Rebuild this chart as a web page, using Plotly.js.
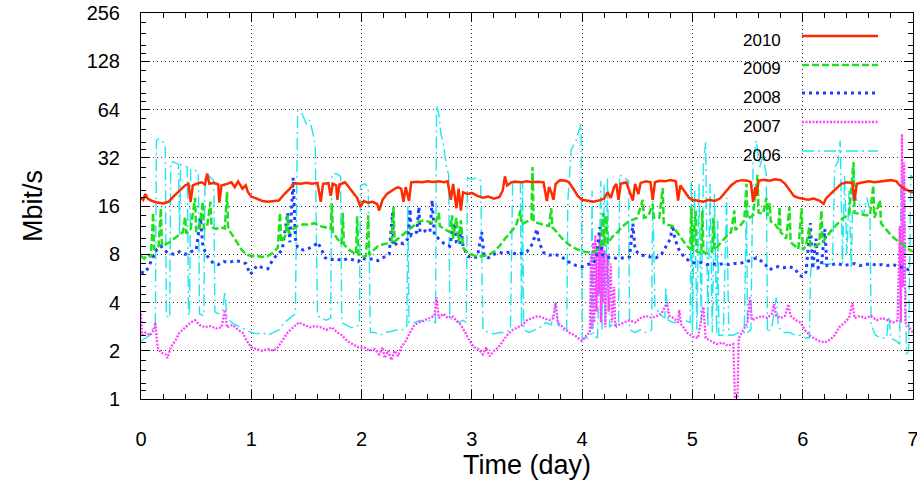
<!DOCTYPE html>
<html><head><meta charset="utf-8">
<script src="https://cdn.plot.ly/plotly-3.0.1.min.js"></script>
<style>html,body{margin:0;padding:0;background:#fff}#chart{width:917px;height:486px}</style>
</head><body><div id="chart"></div>
<script>
// ---- data (time in days, throughput in Mbit/s) ----
const t2010=[0,0.02,0.04,0.06,0.10,0.15,0.20,0.25,0.30,0.35,
0.40,0.43,0.45,0.47,0.50,0.55,0.58,0.60,0.62,0.66,
0.70,0.71,0.73,0.78,0.82,0.85,0.88,0.92,0.95,0.97,
1.00,1.05,1.10,1.15,1.20,1.25,1.30,1.35,1.38,1.40,
1.45,1.50,1.55,1.60,1.63,1.65,1.70,1.72,1.74,1.77,
1.78,1.80,1.85,1.88,1.92,1.96,1.99,2.02,2.06,2.10,
2.14,2.16,2.19,2.23,2.27,2.30,2.33,2.36,2.38,2.40,
2.43,2.45,2.50,2.55,2.60,2.65,2.70,2.75,2.78,2.81,
2.83,2.86,2.88,2.90,2.92,2.96,3.00,3.05,3.10,3.15,
3.20,3.25,3.28,3.30,3.32,3.36,3.40,3.45,3.50,3.55,
3.60,3.65,3.68,3.70,3.72,3.74,3.76,3.80,3.85,3.88,
3.92,3.96,4.00,4.05,4.10,4.15,4.20,4.23,4.26,4.29,
4.31,4.33,4.35,4.40,4.46,4.48,4.51,4.53,4.58,4.62,
4.64,4.66,4.70,4.75,4.80,4.85,4.87,4.89,4.93,4.97,
5.00,5.05,5.10,5.15,5.20,5.25,5.30,5.35,5.40,5.45,
5.50,5.53,5.55,5.57,5.58,5.60,5.65,5.70,5.75,5.80,
5.84,5.88,5.92,5.96,6.00,6.05,6.10,6.15,6.19,6.21,
6.25,6.30,6.35,6.40,6.45,6.47,6.49,6.55,6.60,6.65,
6.70,6.75,6.80,6.85,6.88,6.92,6.96,7.00];
const v2010=[18.0,17.5,19.0,17.8,17.2,16.8,16.6,17.0,18.5,20.0,
21.5,22.0,17.0,21.5,22.0,22.5,21.8,25.5,22.0,22.3,
21.8,16.8,21.5,22.0,22.5,21.0,22.8,20.5,21.5,19.5,
18.3,17.8,17.2,17.0,17.1,17.3,19.0,20.5,21.8,22.2,
22.0,22.3,22.0,22.3,17.0,22.0,22.2,18.5,22.0,21.5,
17.5,21.8,22.5,21.0,19.5,18.0,15.8,17.2,16.8,17.0,
16.5,15.0,17.5,19.0,20.0,20.5,21.0,20.5,17.0,21.0,
17.2,22.5,22.7,22.5,22.8,22.6,22.8,22.5,22.8,17.5,
22.0,15.5,20.5,15.0,19.5,19.0,19.3,18.5,18.0,18.3,
17.8,18.2,20.0,24.5,21.5,22.5,22.7,22.5,22.8,22.5,
22.7,22.5,17.2,21.0,19.5,17.5,22.0,23.2,23.0,22.5,
20.5,18.5,17.5,17.2,17.0,17.3,17.8,19.5,18.0,21.0,
22.0,17.5,22.0,22.5,17.3,22.0,19.0,22.3,22.8,22.5,
17.5,22.5,23.0,22.8,23.2,22.8,17.3,21.5,19.5,18.0,
17.5,17.3,17.0,17.5,17.2,17.8,19.5,21.5,22.8,23.2,
23.0,22.5,17.0,21.0,18.5,23.0,23.3,23.0,23.5,23.2,
22.0,20.0,18.5,18.0,17.8,17.5,17.8,17.3,16.5,17.8,
19.0,20.5,22.0,22.5,22.3,17.3,22.0,22.5,22.8,22.5,
22.8,23.0,23.2,22.8,21.5,20.5,19.8,19.3];

const t2009=[0.00,0.03,0.06,0.09,0.11,0.12,0.16,0.18,0.19,0.23,
0.27,0.30,0.34,0.38,0.40,0.41,0.45,0.49,0.50,0.53,
0.56,0.57,0.60,0.63,0.64,0.68,0.72,0.76,0.78,0.79,
0.83,0.87,0.91,0.95,1.00,1.05,1.10,1.15,1.20,1.24,
1.26,1.27,1.31,1.33,1.34,1.38,1.42,1.47,1.52,1.57,
1.62,1.67,1.72,1.73,1.74,1.78,1.82,1.83,1.84,1.88,
1.92,1.95,1.96,1.97,2.00,2.04,2.06,2.07,2.11,2.15,
2.19,2.23,2.27,2.29,2.30,2.33,2.37,2.42,2.47,2.52,
2.57,2.62,2.67,2.70,2.71,2.75,2.80,2.82,2.83,2.86,
2.88,2.90,2.92,2.96,3.00,3.05,3.10,3.15,3.20,3.25,
3.30,3.35,3.40,3.44,3.45,3.50,3.54,3.55,3.56,3.60,
3.65,3.70,3.72,3.73,3.77,3.82,3.87,3.92,3.97,4.02,
4.07,4.12,4.17,4.19,4.20,4.22,4.23,4.27,4.32,4.37,
4.42,4.46,4.50,4.55,4.56,4.60,4.64,4.65,4.70,4.73,
4.74,4.78,4.82,4.86,4.90,4.94,4.98,4.99,5.00,5.03,
5.04,5.08,5.09,5.10,5.14,5.18,5.19,5.20,5.25,5.30,
5.35,5.38,5.39,5.43,5.47,5.49,5.50,5.55,5.59,5.60,
5.64,5.67,5.68,5.70,5.71,5.74,5.78,5.79,5.80,5.85,
5.88,5.89,5.93,5.96,5.99,6.00,6.03,6.06,6.07,6.11,
6.15,6.17,6.18,6.22,6.27,6.32,6.37,6.42,6.46,6.47,
6.52,6.57,6.61,6.64,6.65,6.70,6.71,6.75,6.80,6.85,
6.90,6.95,7.00];
const v2009=[7.8,7.5,8.0,7.7,14.5,8.5,9.0,15.5,9.0,9.3,
9.6,10.0,10.5,11.0,13.7,10.8,11.5,18.0,11.0,11.8,
17.0,11.5,12.0,17.0,11.8,11.5,11.8,11.6,19.6,11.5,
10.5,9.5,8.6,8.0,7.8,7.8,7.7,7.8,8.2,8.8,
14.5,9.5,10.5,14.0,10.8,11.5,12.0,12.3,12.2,12.5,
12.0,11.8,11.5,16.7,11.0,10.0,9.3,14.5,9.2,8.6,
8.2,8.0,13.8,8.0,7.7,7.8,14.0,7.9,8.5,9.0,
9.2,9.3,9.5,15.8,9.6,10.0,10.5,11.3,12.0,12.8,
13.0,12.7,12.5,14.5,12.0,11.5,11.0,14.0,10.0,13.5,
9.5,13.0,8.8,8.2,8.0,7.7,7.8,7.9,8.3,9.0,
10.0,11.0,12.0,15.0,12.3,12.8,13.2,28.0,12.8,12.5,
12.2,12.0,15.5,11.8,11.0,10.0,9.3,8.8,8.5,8.3,
8.2,8.3,9.0,14.5,9.0,14.0,9.3,10.2,11.0,12.0,
12.8,13.2,13.5,17.5,13.5,13.8,16.5,13.5,13.5,20.7,
12.5,12.2,12.0,11.0,10.0,9.2,8.6,15.8,8.4,15.0,
8.3,8.1,15.0,8.2,8.1,8.3,13.5,8.5,9.3,10.2,
11.0,15.0,11.3,12.0,13.0,22.0,13.3,14.0,25.0,14.5,
14.3,18.0,13.8,16.7,12.8,12.5,11.5,15.8,11.0,10.0,
15.8,9.5,9.0,8.6,15.5,8.5,9.0,11.8,9.0,8.9,
9.3,15.0,9.5,10.3,11.5,12.5,13.5,14.2,30.0,14.5,
14.3,14.0,14.0,21.5,13.5,17.4,12.5,11.5,10.5,9.8,
9.3,8.7,8.3];

const t2008=[0.00,0.03,0.06,0.10,0.14,0.18,0.21,0.25,0.30,0.35,
0.40,0.45,0.50,0.54,0.56,0.60,0.65,0.70,0.75,0.80,
0.85,0.90,0.95,0.99,1.02,1.05,1.10,1.15,1.20,1.24,
1.28,1.33,1.35,1.38,1.40,1.42,1.47,1.52,1.57,1.60,
1.63,1.67,1.72,1.77,1.82,1.87,1.92,1.97,2.00,2.05,
2.10,2.15,2.20,2.25,2.28,2.29,2.33,2.38,2.42,2.44,
2.45,2.50,2.52,2.53,2.58,2.62,2.64,2.66,2.70,2.75,
2.80,2.84,2.86,2.89,2.90,2.92,2.96,3.00,3.05,3.09,
3.11,3.15,3.20,3.25,3.30,3.35,3.40,3.45,3.50,3.55,
3.59,3.61,3.65,3.70,3.75,3.80,3.85,3.90,3.95,4.00,
4.05,4.10,4.13,4.16,4.18,4.22,4.27,4.32,4.38,4.43,
4.46,4.48,4.52,4.57,4.62,4.67,4.72,4.76,4.80,4.82,
4.84,4.88,4.93,4.98,5.03,5.08,5.13,5.18,5.23,5.28,
5.33,5.38,5.43,5.48,5.53,5.58,5.62,5.66,5.70,5.74,
5.78,5.83,5.88,5.93,5.97,6.00,6.03,6.07,6.09,6.12,
6.14,6.17,6.20,6.22,6.27,6.32,6.37,6.42,6.47,6.52,
6.57,6.62,6.67,6.72,6.77,6.82,6.87,6.92,6.96,7.00];
const v2008=[6.2,6.1,6.5,7.5,8.5,9.0,8.5,8.1,8.0,8.3,
8.0,8.3,8.5,13.5,9.0,7.8,7.1,6.9,7.2,7.1,
7.3,7.2,7.0,6.0,6.3,6.8,6.6,6.5,7.5,8.0,
8.5,14.5,9.5,24.0,10.0,8.8,8.5,8.7,9.0,9.5,
8.8,7.6,7.4,7.5,7.3,7.5,7.4,7.2,7.6,7.4,
7.5,7.3,7.6,8.0,14.5,9.0,9.5,9.3,10.0,15.3,
10.5,11.0,15.8,11.0,11.2,11.0,17.4,10.5,10.0,9.3,
9.0,12.5,9.5,9.2,12.0,9.0,7.8,7.6,7.7,11.0,
7.8,7.6,8.0,8.2,8.1,8.3,8.0,8.1,8.3,9.3,
11.5,9.5,8.2,7.9,8.0,7.8,7.4,7.0,6.8,6.7,
6.9,7.0,7.6,11.8,8.0,7.6,7.7,7.5,7.6,7.7,
12.4,8.5,8.0,7.8,7.7,7.6,8.0,9.0,10.0,12.2,
10.0,8.5,7.6,7.2,7.0,7.1,6.9,7.0,6.9,7.0,
6.9,7.0,7.0,7.2,7.3,7.6,7.3,6.9,6.4,6.6,
6.7,6.6,6.7,6.5,5.9,5.8,6.2,12.5,6.5,10.0,
6.6,6.8,11.5,6.8,6.9,7.0,6.8,6.9,7.0,6.8,
6.9,7.0,6.8,6.9,6.8,6.9,6.7,6.6,6.4,6.5];

const t2007=[0.00,0.01,0.04,0.08,0.12,0.13,0.15,0.18,0.22,0.24,
0.27,0.31,0.35,0.40,0.45,0.49,0.53,0.58,0.63,0.68,
0.73,0.76,0.78,0.83,0.88,0.92,0.96,1.00,1.05,1.10,
1.15,1.20,1.24,1.28,1.33,1.38,1.43,1.48,1.53,1.58,
1.63,1.68,1.73,1.78,1.82,1.87,1.92,1.97,2.02,2.07,
2.12,2.16,2.19,2.21,2.24,2.27,2.30,2.33,2.36,2.40,
2.44,2.48,2.52,2.57,2.62,2.66,2.68,2.70,2.74,2.78,
2.82,2.86,2.90,2.94,2.98,3.02,3.06,3.10,3.13,3.16,
3.20,3.24,3.28,3.32,3.37,3.42,3.46,3.50,3.55,3.60,
3.65,3.70,3.74,3.76,3.78,3.83,3.88,3.93,3.98,4.00,
4.04,4.07,4.08,4.09,4.10,4.11,4.12,4.13,4.14,4.15,
4.16,4.17,4.18,4.19,4.20,4.21,4.23,4.24,4.26,4.27,
4.29,4.30,4.33,4.38,4.43,4.48,4.53,4.58,4.63,4.68,
4.72,4.77,4.79,4.83,4.87,4.88,4.90,4.95,5.00,5.05,
5.10,5.12,5.17,5.22,5.27,5.32,5.37,5.40,5.42,5.46,
5.50,5.52,5.54,5.58,5.63,5.68,5.72,5.74,5.76,5.80,
5.84,5.87,5.89,5.94,5.98,6.02,6.06,6.10,6.15,6.20,
6.25,6.29,6.33,6.38,6.42,6.45,6.47,6.52,6.57,6.62,
6.67,6.72,6.77,6.82,6.86,6.88,6.89,6.90,6.91,6.92,
6.93,6.95,6.98,7.00];
const v2007=[3.4,2.5,2.6,2.5,2.7,3.0,2.1,1.95,1.9,1.8,
2.1,2.3,2.6,2.8,3.0,3.1,2.9,2.8,2.85,2.75,
2.8,3.6,2.8,2.9,2.7,2.6,2.3,2.1,2.05,2.0,
2.05,2.0,2.1,2.3,2.6,2.8,3.0,2.9,2.8,2.85,
2.8,2.7,2.8,2.6,2.5,2.3,2.2,2.1,2.1,2.0,
2.05,1.9,2.1,1.8,2.0,1.75,2.0,1.85,2.1,2.3,
2.6,2.9,3.0,3.1,3.2,3.3,4.3,3.2,3.4,3.2,
3.3,3.1,2.9,2.6,2.3,2.1,2.05,1.9,2.1,1.85,
2.0,2.1,2.3,2.5,2.7,2.8,2.9,3.1,3.2,3.3,
3.2,3.1,3.2,4.0,3.0,2.8,2.6,2.5,2.35,2.3,
2.5,2.6,8.0,2.7,9.5,3.0,10.5,3.5,9.0,4.5,
10.8,3.0,9.5,4.0,8.5,2.8,8.0,3.5,7.0,3.0,
5.0,2.8,2.9,3.0,3.1,3.0,3.2,3.3,3.2,3.3,
3.4,4.0,3.3,3.2,3.0,3.6,2.9,2.6,2.45,2.4,
3.75,2.4,2.3,2.2,2.25,2.15,2.2,0.5,2.4,2.7,
3.0,4.3,3.1,3.2,3.3,3.2,3.4,3.9,3.3,3.2,
3.3,3.9,3.3,3.1,3.0,2.7,2.5,2.4,2.3,2.25,
2.35,2.5,2.8,3.0,3.2,4.0,3.2,3.3,3.2,3.3,
3.1,3.2,3.1,3.0,3.1,12.0,3.0,45.0,5.0,30.0,
3.0,2.9,2.7,2.6];

const t2006=[0.00,0.04,0.08,0.10,0.13,0.14,0.16,0.19,0.22,0.23,
0.26,0.27,0.30,0.34,0.35,0.36,0.42,0.43,0.44,0.45,
0.48,0.52,0.53,0.57,0.58,0.62,0.66,0.67,0.70,0.74,
0.76,0.78,0.82,0.86,0.90,0.95,1.00,1.05,1.10,1.15,
1.20,1.25,1.30,1.35,1.40,1.42,1.46,1.50,1.53,1.56,
1.58,1.60,1.64,1.68,1.72,1.73,1.77,1.81,1.82,1.86,
1.90,1.94,1.98,1.99,2.03,2.06,2.08,2.12,2.17,2.22,
2.27,2.32,2.37,2.41,2.42,2.43,2.48,2.53,2.58,2.63,
2.67,2.68,2.70,2.72,2.74,2.77,2.79,2.80,2.84,2.88,
2.92,2.95,2.96,3.00,3.04,3.08,3.10,3.15,3.20,3.25,
3.30,3.35,3.37,3.40,3.44,3.45,3.46,3.47,3.52,3.57,
3.62,3.67,3.72,3.76,3.78,3.83,3.86,3.87,3.90,3.94,
3.97,3.99,4.00,4.05,4.08,4.09,4.10,4.14,4.17,4.18,
4.20,4.21,4.23,4.25,4.29,4.33,4.34,4.38,4.42,4.43,
4.48,4.53,4.58,4.63,4.64,4.66,4.70,4.75,4.76,4.78,
4.83,4.88,4.93,4.98,4.99,5.00,5.02,5.04,5.06,5.08,
5.10,5.12,5.14,5.16,5.18,5.20,5.22,5.23,5.24,5.28,
5.31,5.33,5.37,5.42,5.47,5.49,5.50,5.53,5.55,5.58,
5.61,5.64,5.67,5.68,5.72,5.76,5.78,5.83,5.88,5.93,
5.98,6.03,6.06,6.07,6.08,6.12,6.17,6.22,6.27,6.29,
6.32,6.34,6.36,6.38,6.40,6.42,6.44,6.46,6.48,6.52,
6.55,6.58,6.61,6.62,6.66,6.71,6.76,6.78,6.80,6.85,
6.88,6.89,6.92,6.94,6.96,6.98,7.00];
const v2006=[2.3,2.4,2.5,2.7,2.9,41.0,42.0,41.0,38.0,3.3,
3.2,30.0,30.0,29.0,10.5,29.0,28.0,3.4,3.3,27.0,
27.0,26.0,3.4,3.3,24.0,24.5,23.0,3.5,3.4,3.5,
4.7,3.2,3.0,2.9,2.8,2.7,2.6,2.55,2.6,2.5,
2.6,2.7,3.0,3.2,3.4,63.0,60.0,52.0,55.0,45.0,
38.0,3.3,3.2,3.1,3.2,25.0,25.5,24.5,3.0,2.9,
2.8,2.8,2.9,21.5,22.0,21.0,2.6,2.6,2.5,2.6,
2.65,2.7,2.7,2.8,16.0,3.0,3.0,3.1,3.0,3.1,
3.0,68.0,60.0,45.0,40.0,28.0,25.0,3.2,3.1,3.0,
3.1,3.0,24.0,23.5,24.0,23.0,2.7,2.6,2.55,2.6,
2.6,2.7,23.0,23.0,22.5,2.8,22.5,2.7,2.6,2.7,
2.8,3.0,2.9,4.0,2.9,2.7,2.6,17.0,36.0,40.0,
48.0,52.0,2.4,2.4,2.5,20.0,2.5,2.4,23.0,2.7,
22.0,3.0,24.0,2.8,3.0,2.9,25.0,24.0,23.0,2.7,
2.6,2.7,2.6,2.7,19.5,3.8,3.4,3.2,5.0,3.1,
3.0,3.0,3.1,3.0,23.0,2.6,20.0,2.7,22.0,3.0,
30.0,40.0,2.8,22.0,2.6,19.0,2.5,13.0,2.5,2.5,
18.0,2.5,2.5,2.6,2.6,18.0,2.6,2.7,30.0,41.0,
28.0,33.0,25.0,2.6,2.8,4.3,2.8,2.6,2.6,2.5,
2.5,2.4,2.4,5.8,7.0,7.0,7.0,6.9,7.0,28.0,
30.0,41.0,7.0,25.0,8.0,20.0,6.5,30.0,18.0,16.0,
14.0,18.0,15.0,2.9,2.5,2.4,2.4,3.3,2.4,2.3,
2.2,21.0,24.0,1.9,2.0,25.0,24.0];

const seriesNames=['2010','2009','2008','2007','2006'];
const xTickVals=[0,1,2,3,4,5,6,7];
const yTickVals=[1,2,4,8,16,32,64,128,256];
const yTickText=['1','2','4','8','16','32','64','128','256'];
const xTitle='Time (day)';
const yTitle='Mbit/s';

// ---- styles ----
const styles={
  '2010':{color:'#ff2a00',width:2.5,dash:'solid'},
  '2009':{color:'#1fe01f',width:2.5,dash:'7px,3px'},
  '2008':{color:'#1f3fff',width:3,dash:'3px,4px'},
  '2007':{color:'#ff40ff',width:2.3,dash:'2px,1.5px'},
  '2006':{color:'#22e6ee',width:1.4,dash:'12px,4px,2px,4px'}
};
const seriesData={'2010':[t2010,v2010],'2009':[t2009,v2009],'2008':[t2008,v2008],'2007':[t2007,v2007],'2006':[t2006,v2006]};

const drawOrder=['2006','2007','2008','2009','2010'];
const traces=drawOrder.map(n=>({
  type:'scatter',mode:'lines',name:n,x:seriesData[n][0],y:seriesData[n][1],
  line:{color:styles[n].color,width:styles[n].width,dash:styles[n].dash},
  showlegend:false,hoverinfo:'skip'
}));

// minor y ticks inside each octave
const minorY=[];
for(let k=0;k<8;k++){[1.125,1.25,1.5,1.75].forEach(f=>minorY.push(Math.pow(2,k)*f));}

// manual gnuplot-style key (text left, sample right)
const L=141,R=913,T=13,B=399;
const px=x=>(x-L)/(R-L), py=y=>(B-y)/(B-T);
const rowY=[40,69,97,126,155];
const annotations=[], shapes=[];
shapes.push({type:'rect',xref:'paper',yref:'paper',x0:px(715),x1:px(897),y0:py(166),y1:py(14),
  fillcolor:'#ffffff',line:{width:0},layer:'between'});
seriesNames.forEach((n,i)=>{
  annotations.push({xref:'paper',yref:'paper',x:px(783),y:py(rowY[i]),xanchor:'right',yanchor:'middle',
    text:n,showarrow:false,font:{family:'Liberation Sans, Arial, sans-serif',size:17,color:'#000'}});
  shapes.push({type:'line',xref:'paper',yref:'paper',x0:px(802),x1:px(878),y0:py(rowY[i]-4),y1:py(rowY[i]-4),
    line:{color:styles[n].color,width:styles[n].width,dash:styles[n].dash},layer:'above'});
});

const axisCommon={
  showline:true,linecolor:'#000',linewidth:1,mirror:'ticks',
  ticks:'inside',tickcolor:'#000',ticklen:9,tickwidth:1,
  showgrid:true,gridcolor:'#333',gridwidth:1,griddash:'1px,3px',zeroline:false,
  tickfont:{family:'Liberation Sans, Arial, sans-serif',size:20,color:'#000'}
};

const layout={
  width:917,height:486,
  margin:{l:141,r:4,t:13,b:87,pad:0},
  paper_bgcolor:'#fff',plot_bgcolor:'#fff',
  font:{family:'Liberation Sans, Arial, sans-serif',color:'#000'},
  showlegend:false,
  xaxis:Object.assign({},axisCommon,{
    range:[0,7],tickmode:'array',tickvals:xTickVals,ticktext:xTickVals.map(String),
    ticklabelstandoff:22,ticklabeloverflow:'allow',
    minor:{ticks:'inside',ticklen:5,tickcolor:'#000',tick0:0,dtick:0.2,showgrid:false},
    title:{text:xTitle,font:{size:27,color:'#000'},standoff:6}
  }),
  yaxis:Object.assign({},axisCommon,{
    type:'log',range:[0,Math.log10(256)],tickmode:'array',tickvals:yTickVals,ticktext:yTickText,
    ticklabelstandoff:16,
    minor:{ticks:'inside',ticklen:5,tickcolor:'#000',tickmode:'array',tickvals:minorY,showgrid:false},
    title:{text:yTitle,font:{size:27,color:'#000'},standoff:36}
  }),
  annotations:annotations,shapes:shapes
};

Plotly.newPlot('chart',traces,layout,{staticPlot:true,displayModeBar:false});
</script>
</body></html>
